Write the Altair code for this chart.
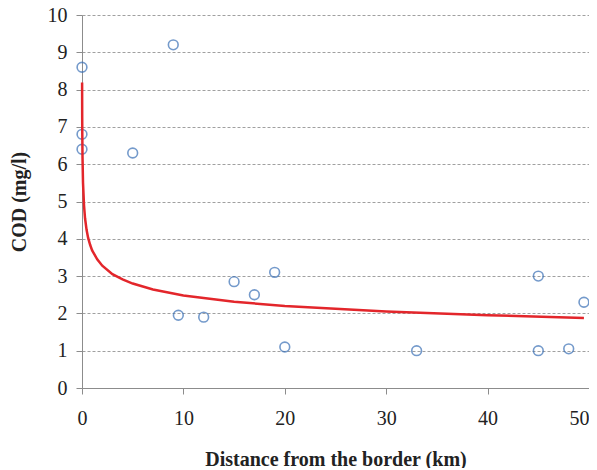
import altair as alt
import pandas as pd

# Observed points (distance km, COD mg/l)
dist = [0, 0, 0, 5, 9, 9.5, 12, 15, 17, 19, 20, 33, 45, 45, 48, 49.5]
cod = [8.6, 6.8, 6.4, 6.3, 9.2, 1.95, 1.9, 2.85, 2.5, 3.1, 1.1, 1.0, 3.0, 1.0, 1.05, 2.3]

# Trend curve
trend_x = [0.01, 0.02, 0.03, 0.05, 0.1, 0.2, 0.3, 0.45, 0.6, 0.8, 1, 1.5, 2, 3, 4, 5, 7, 10, 15, 20, 30, 40, 49.5]
trend_y = [8.19, 7.24, 6.78, 6.20, 5.50, 4.89, 4.55, 4.24, 4.03, 3.84, 3.69, 3.45, 3.28, 3.05, 2.91, 2.80, 2.64, 2.48, 2.31, 2.20, 2.05, 1.95, 1.88]

x_ticks = [0, 10, 20, 30, 40, 50]
y_ticks = [0, 1, 2, 3, 4, 5, 6, 7, 8, 9, 10]

pts = pd.DataFrame({"x": dist, "y": cod})
tr = pd.DataFrame({"x": trend_x, "y": trend_y})

font = "Liberation Serif"
gray = "#8c8c8c"

xscale = alt.Scale(domain=[0, 50], nice=False, zero=True)
yscale = alt.Scale(domain=[0, 10], nice=False)

xaxis = alt.Axis(
    title="Distance from the border (km)",
    values=x_ticks, grid=False, domainColor=gray, tickColor=gray,
    tickSize=6, labelPadding=14, labelFontSize=20, labelFont=font,
    labelColor="#222222", titleFont=font, titleFontSize=20,
    titleFontWeight="bold", titleColor="#222222", titlePadding=21,
    labelFlush=False,
    labelAlign=alt.ExprRef(expr="datum.value == 50 ? 'right' : 'center'"),
)
yaxis = alt.Axis(
    title="COD (mg/l)",
    values=y_ticks, grid=True, gridColor="#a0a0a0", gridDash=[3, 2],
    gridWidth=1, domainColor=gray, tickColor=gray, tickSize=6,
    labelPadding=9, labelFontSize=20, labelFont=font, labelColor="#222222",
    titleFont=font, titleFontSize=20, titleFontWeight="bold",
    titleColor="#222222", titlePadding=18,
)

points = alt.Chart(pts).mark_point(
    shape="circle", filled=False, size=95, strokeWidth=1.6, color="#3a70b6"
).encode(
    x=alt.X("x:Q", scale=xscale, axis=xaxis),
    y=alt.Y("y:Q", scale=yscale, axis=yaxis),
)

line = alt.Chart(tr).mark_line(color="#e3262b", strokeWidth=2.5).encode(
    x=alt.X("x:Q", scale=xscale, axis=xaxis),
    y=alt.Y("y:Q", scale=yscale, axis=yaxis),
)

chart = alt.layer(points, line).properties(
    width=507, height=373,
    autosize=alt.AutoSizeParams(type="none"),
    padding={"left": 74, "top": 7, "right": 0, "bottom": 80},
).configure_view(stroke=None).configure_axis(labelFont=font, titleFont=font)

chart.save("out.html", embed_options={"renderer": "svg", "actions": False})
